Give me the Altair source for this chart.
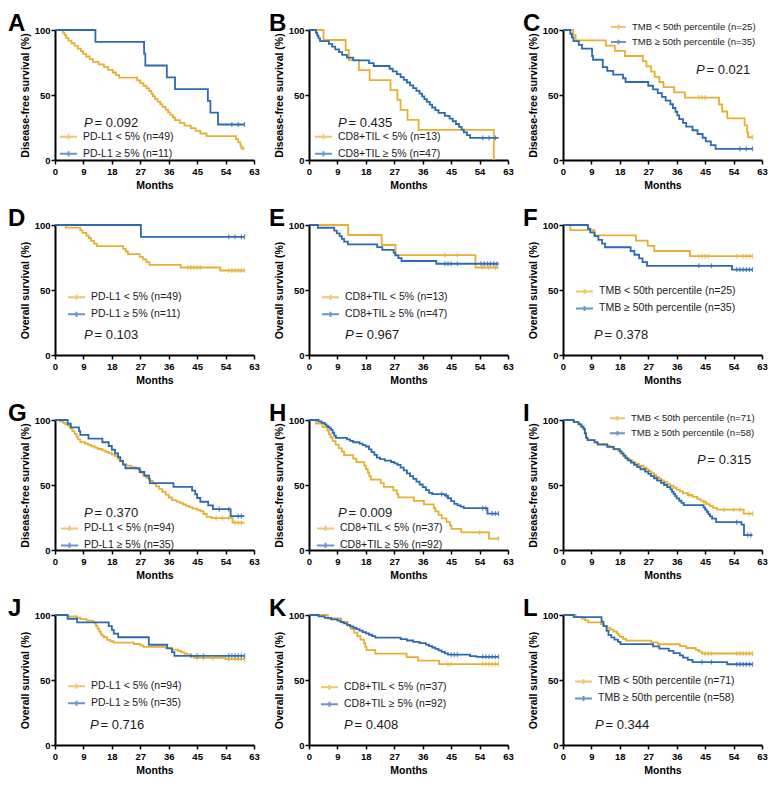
import altair as alt
import pandas as pd

YELLOW = "#E7B033"
BLUE = "#2B6BB3"
TXT = "#1a1a1a"
FONT = "Liberation Sans"
X_TICKS = [0, 9, 18, 27, 36, 45, 54, 63]
Y_TICKS = [0, 50, 100]
DFS = "Disease-free survival (%)"
OS = "Overall survival (%)"

# ---- Kaplan-Meier step curves: (month, survival %) ----
A_LOW = [(0,100),(2.5,98),(3,96),(3.5,93.9),(4.2,91.8),(5.2,89.8),(6.2,87.8),(7.2,85.7),(8.2,83.7),(8.9,81.6),(9.8,79.6),(11,77.6),(12,75.5),(13.8,73.5),(15.5,71.4),(16.8,69.4),(18.3,67.3),(19.3,65.3),(20.3,63.3),(26,61.2),(27,59.2),(28,57.1),(29,55.1),(29.8,53.1),(30.5,51),(31,49),(31.7,46.9),(32.5,44.9),(33.3,42.9),(34,40.8),(35,38.8),(35.8,36.7),(36.5,34.7),(37.3,32.7),(38,30.6),(39.5,28.6),(41,26.5),(43,24.5),(44.5,22.4),(46,20.4),(48,18.4),(57.3,16),(58,13.5),(58.7,11),(59,9),(60,9)]
A_HIGH = [(0,100),(12.8,90.9),(28.2,81.8),(28.6,72.7),(35.4,63.6),(38,54.5),(48.4,45.5),(49.2,36.4),(51.6,27.3),(60,27.3)]
A_LOW_CENS = [59.5]
A_HIGH_CENS = [56, 58, 60]

B_LOW = [(0,100),(4.6,92.3),(11.6,84.6),(12.6,76.9),(15.8,69.2),(19.2,61.5),(25.8,53.8),(28,46.2),(29,38.5),(31.2,30.8),(34.7,23.1),(58.5,0)]
B_HIGH = [(0,100),(2.2,97.9),(2.6,95.7),(3,93.6),(3.5,91.5),(6.3,89.4),(7.3,87.2),(8.3,85.1),(9.5,83),(10.5,80.9),(12,78.7),(14,76.6),(19,74.5),(20.5,72.3),(25.5,70.2),(26.5,68.1),(27.8,66),(29,63.8),(30,61.7),(31,59.6),(32,57.4),(33,55.3),(34,53.2),(35,51.1),(35.8,48.9),(36.5,46.8),(37.3,44.7),(38.2,42.6),(39,40.4),(40,38.3),(41,36.2),(43,34),(44.5,31.9),(45.5,29.8),(46.5,27.7),(47.5,25.5),(48.3,23.4),(49,21.3),(50,19.1),(51,17),(60,17)]
B_LOW_CENS = []
B_HIGH_CENS = [55, 57, 59]

C_LOW = [(0,100),(3.2,96),(4,92),(13.6,88),(16.4,84),(19.6,80),(25.3,76),(26.4,72),(27.9,68),(29,64),(30.5,60),(31.8,56),(35.2,52),(38.6,48),(49.4,42.7),(50.4,37.3),(52,32),(57.5,26.7),(58.3,21.3),(58.6,17.5),(60,17.5)]
C_HIGH = [(0,100),(2.3,97.1),(2.8,94.3),(3.3,91.4),(5,88.6),(6,85.7),(9.2,80),(9.5,77.1),(12.6,71.4),(14,68.6),(15.9,65.7),(19,62.9),(19.8,60),(27,57.1),(28.5,54.3),(30,51.4),(31.3,48.6),(32.5,45.7),(34,42.9),(34.8,40),(35.6,37.1),(36.2,34.3),(36.8,31.4),(38,28.6),(39,25.7),(41,22.9),(42.6,20),(44.2,17.1),(45.2,14.3),(46.8,11.4),(48.3,8.6),(60,8.6)]
C_LOW_CENS = [43, 44, 45, 60]
C_HIGH_CENS = [56, 58, 60]

D_LOW = [(0,100),(3.4,98),(8,95.9),(8.7,93.9),(9.9,91.8),(10.7,89.8),(11.4,87.8),(12.3,85.7),(13.2,83.7),(21.6,81.6),(22.4,79.6),(23.1,77.6),(26.8,75.5),(27.8,73.5),(28.9,71.4),(29.9,69.4),(39.8,67.3),(52.3,65),(60,65)]
D_HIGH = [(0,100),(27.2,90.9),(60,90.9)]
D_LOW_CENS = [42, 43, 44, 45, 46, 55, 56, 57, 58, 59, 60]
D_HIGH_CENS = [55, 57, 59, 60]

E_LOW = [(0,100),(12.4,92.3),(23,84.6),(27.4,76.9),(52.7,67.3),(60,67.3)]
E_HIGH = [(0,100),(2.8,97.9),(8,95.7),(8.8,93.6),(9.7,91.5),(10.4,89.4),(11.1,87.2),(12.3,85.1),(21.6,83),(23.2,80.9),(26.8,78.7),(27.3,76.6),(28.3,74.5),(29.3,72.3),(40.3,70.2),(60,70.2)]
E_LOW_CENS = [43, 47, 55, 57, 59]
E_HIGH_CENS = [43, 44, 45, 47, 54.5, 55.5, 56.5, 57.5, 58.5, 59.5]

F_LOW = [(0,100),(2.3,96),(9.9,92),(23.1,88),(26.8,84),(28.9,80),(40.2,76),(60,76)]
F_HIGH = [(0,100),(7.9,97.1),(8.6,94.3),(10,91.4),(11.2,88.6),(12.4,85.7),(13.3,82.9),(21.4,80),(22.6,77.1),(24.1,74.3),(25.2,71.4),(26.6,68.6),(53.5,65.7),(60,65.7)]
F_LOW_CENS = [43, 44, 45, 46, 55, 57, 58, 59, 60]
F_HIGH_CENS = [43, 47, 55, 56, 57, 58, 59, 60]

G_LOW = [(0,100),(1.5,98.9),(2.5,97.9),(3.2,96.8),(4,95.7),(4.8,93.6),(5.5,91.5),(6.2,89.4),(6.8,87.2),(7.3,85.1),(8,83),(9.5,81.9),(10.5,80.9),(11.5,79.8),(12.5,78.7),(13.5,77.7),(15,76.6),(16,75.5),(17,74.5),(18,73.4),(19,72.3),(19.8,70.2),(20.5,68.1),(21.5,66),(22.5,64.9),(24,63.8),(25.5,62.8),(26.5,61.7),(27.2,59.6),(28,57.4),(29,55.3),(30,53.2),(31,51.1),(32,49),(33,46.8),(34,44.7),(35,42.6),(36,40.4),(37,38.3),(38.5,37.2),(39.5,36.2),(40.5,35.1),(41.5,34),(42.5,33),(43.5,31.9),(45,30.9),(46,29.8),(47,27.7),(48,25.5),(49.5,24.5),(56.2,21),(60,21)]
G_HIGH = [(0,100),(4,97.1),(5,94.3),(7.6,91.4),(8,88.6),(10.6,85.7),(15,82.9),(17,80),(18,77.1),(19,74.3),(20,71.4),(20.7,68.6),(21.5,65.7),(22.3,62.9),(26.8,60),(28.3,57.1),(29.8,54.3),(30,51.4),(37.5,48.6),(43.4,45.7),(44.4,42.9),(45,40),(46,37.1),(48.5,34.3),(50,31.4),(55.6,26),(60,26)]
G_LOW_CENS = [51, 53, 55, 57, 58, 59]
G_HIGH_CENS = [52, 55, 58, 59]

H_LOW = [(0,100),(2.2,97.3),(4.3,94.6),(5.8,91.9),(6.3,89.2),(6.8,86.5),(7.5,83.8),(8.4,81.1),(9.4,78.4),(10.4,75.7),(11.1,73),(14,70.3),(15,67.6),(17.5,64.9),(18,62.2),(18.6,59.5),(19.1,56.8),(19.6,54.1),(22.7,51.4),(23.7,48.6),(26.7,45.9),(27.8,43.2),(28.3,40.5),(33.2,37.8),(36.4,35.1),(39.5,32.4),(40,29.7),(41,27),(42,24.3),(43.5,21.6),(44.6,18.9),(45.1,16.2),(48.2,13.5),(57,8.7),(60,8.7)]
H_HIGH = [(0,100),(3,98.9),(4,97.8),(5,96.7),(5.5,95.7),(6,94.6),(6.5,93.5),(7,92.4),(7.5,90.2),(8,88),(8.5,86.2),(12,85.1),(13,84),(14,82.9),(16,81.8),(17,80.7),(18,79.6),(19,77.4),(19.8,75.3),(20.7,73.1),(21.5,71),(22.5,69.9),(24,68.8),(26,67.7),(27,66.6),(28,65.5),(29,63.3),(30,61.2),(31,59),(32,56.9),(33,54.7),(34,52.6),(35,50.4),(36,48.3),(37,46.1),(38,44),(39,43),(43,41.9),(44,39.8),(45,37.6),(46,35.5),(47,34.4),(48,33.3),(49,32.2),(56.5,28),(60,28)]
H_LOW_CENS = [54, 60]
H_HIGH_CENS = [42, 43.5, 55, 56, 58, 59, 60]

I_LOW = [(0,100),(3.4,98.6),(4.9,97.2),(5.5,95.8),(6,94.4),(6.5,93),(6.9,90.1),(7.2,87.3),(7.5,85.9),(7.8,84.5),(10,83.1),(10.8,81.7),(14,80.3),(15,78.9),(16.2,77.5),(17.5,76.1),(18.2,74.6),(19,73.2),(19.5,71.8),(20.2,70.4),(21,69),(22,67.6),(23,66.2),(24,64.8),(25.5,63.4),(26.5,62),(27.2,60.6),(28,59.2),(28.8,57.7),(29.5,56.3),(30.3,54.9),(31.2,53.5),(32,52.1),(33,50.7),(34,49.3),(35,47.9),(36,46.5),(37,45.1),(38,43.7),(39.5,42.3),(41,40.8),(42.5,39.4),(43.5,38),(44.5,36.6),(45.5,35.2),(46.5,33.8),(47.5,32.4),(48.7,31),(57.2,28),(60,28)]
I_HIGH = [(0,100),(3.4,98.3),(4.9,96.6),(5.8,94.8),(6.5,93.1),(6.9,89.7),(7.3,86.2),(7.8,84.5),(10,82.8),(11,81),(14,79.3),(16,77.6),(18,75.9),(18.6,74.1),(19.2,72.4),(19.8,70.7),(20.5,69),(21.5,67.2),(22.5,65.5),(23.5,63.8),(24.5,62.1),(26,60.3),(27,58.6),(27.8,56.9),(28.8,55.2),(29.8,53.4),(31,51.7),(32,50),(33,48.3),(34,46.6),(34.5,44.8),(35,43.1),(35.5,41.4),(36,39.7),(36.8,37.9),(37.5,36.2),(38.2,34.5),(44.5,32.8),(45,31),(45.5,29.3),(46,27.6),(46.5,25.9),(47.2,24.1),(48.5,21.4),(56.5,19.5),(57.3,11.5),(60,11.5)]
I_LOW_CENS = [40, 45, 51, 54, 56, 59, 60]
I_HIGH_CENS = [55, 58.5, 59.5]

J_LOW = [(0,100),(4,98.9),(7,97.9),(8,96.8),(10,95.7),(12,94.7),(12.5,93.6),(13,91.5),(13.5,89.4),(14,87.2),(14.5,85.1),(15,84),(15.5,82.9),(16.5,80.9),(17.5,79.8),(18.5,78.7),(25,77.7),(27,76.6),(28,75.5),(35,74.5),(37,73.4),(39,72.3),(40,71.3),(41,70.2),(42,69.1),(43,68.1),(44,67),(54,66),(60,66)]
J_HIGH = [(0,100),(4,97.1),(7,94.3),(17,91.4),(18,88.6),(18.6,85.7),(20,82.9),(29.7,77.1),(35.5,74.3),(37,71.4),(37.8,68.6),(60,68.6)]
J_LOW_CENS = [45, 47, 50, 55, 57, 58, 59, 60]
J_HIGH_CENS = [43, 45, 47, 55, 56, 57, 58, 59, 60]

K_LOW = [(0,100),(6,97.3),(10.2,94.6),(12.2,91.9),(13.3,89.2),(14.3,86.5),(15.3,83.8),(16.3,81.1),(17.4,78.4),(17.8,75.7),(18.2,73),(21,70.3),(30.9,67.6),(34.5,64.9),(41.2,62.2),(60,62.2)]
K_HIGH = [(0,100),(3,98.9),(5,97.8),(7,96.7),(9,95.7),(10,94.6),(11,93.5),(12,92.4),(13,91.3),(14,90.2),(15,89.1),(16,88),(17,86.9),(18,85.9),(19,84.8),(20,83.7),(21,82.6),(29,81.5),(31,80.4),(33,79.3),(35,78.3),(37,77.2),(38,76.1),(39,75),(40,73.9),(41,72.8),(42,71.7),(43,70.5),(44,69.5),(51,68.4),(53,67.8),(60,67.8)]
K_LOW_CENS = [44, 45, 55, 56, 57, 58, 59, 60]
K_HIGH_CENS = [45, 46, 47, 55, 56, 57, 58, 59, 60]

L_LOW = [(0,100),(4,98.6),(6,97.2),(7,95.8),(8,94.4),(12,93),(13,91.5),(14,90.1),(15,88.7),(16,87.3),(17,85.9),(17.5,84.5),(18,83.1),(19,81.7),(20,80.3),(28,78.9),(30,77.5),(37,76),(39,74.6),(42,73.2),(43,71.8),(44,70.4),(60,70.4)]
L_HIGH = [(0,100),(3.4,98.3),(12.2,94.8),(12.8,91.4),(13.8,87.9),(14.4,84.5),(15.3,82.8),(16.3,81),(17.4,79.3),(18.2,77.6),(28.5,75.9),(30.5,74.1),(33.5,72.4),(35,70.7),(37,69),(38,67.2),(39.5,65.5),(41,63.8),(52,62.1),(60,62.1)]
L_LOW_CENS = [45, 46, 47, 55, 56, 57, 58, 59, 60]
L_HIGH_CENS = [44, 47, 55, 56, 57, 58, 59, 60]

# ---- labels ----
PDL1 = ["PD-L1 < 5% (n={})", "PD-L1 \u2265 5% (n={})"]
CD8 = ["CD8+TIL < 5% (n={})", "CD8+TIL \u2265 5% (n={})"]
TMB = ["TMB < 50th percentile (n={})", "TMB \u2265 50th percentile (n={})"]
LETTERS = list("ABCDEFGHIJKL")
P_VALUES = ["0.092", "0.435", "0.021", "0.103", "0.967", "0.378",
            "0.370", "0.009", "0.315", "0.716", "0.408", "0.344"]
N_LOW = [49, 13, 25, 49, 13, 25, 94, 37, 71, 94, 37, 71]
N_HIGH = [11, 47, 35, 11, 47, 35, 35, 92, 58, 35, 92, 58]
LABEL_SETS = [PDL1, CD8, TMB] * 4
Y_TITLES = [DFS] * 3 + [OS] * 3 + [DFS] * 3 + [OS] * 3

CURVES = [
    (A_LOW, A_HIGH, A_LOW_CENS, A_HIGH_CENS), (B_LOW, B_HIGH, B_LOW_CENS, B_HIGH_CENS),
    (C_LOW, C_HIGH, C_LOW_CENS, C_HIGH_CENS), (D_LOW, D_HIGH, D_LOW_CENS, D_HIGH_CENS),
    (E_LOW, E_HIGH, E_LOW_CENS, E_HIGH_CENS), (F_LOW, F_HIGH, F_LOW_CENS, F_HIGH_CENS),
    (G_LOW, G_HIGH, G_LOW_CENS, G_HIGH_CENS), (H_LOW, H_HIGH, H_LOW_CENS, H_HIGH_CENS),
    (I_LOW, I_HIGH, I_LOW_CENS, I_HIGH_CENS), (J_LOW, J_HIGH, J_LOW_CENS, J_HIGH_CENS),
    (K_LOW, K_HIGH, K_LOW_CENS, K_HIGH_CENS), (L_LOW, L_HIGH, L_LOW_CENS, L_HIGH_CENS),
]

# layout (pixels relative to each plot's top-left corner)
W, H = 199, 130
REF_H = [134] * 3 + [133] * 3 + [138] * 3 + [135] * 3
# legend: (x, y of first entry centre, font size); P text: (x, y)
LEGEND_POS = [(4, 109, 10.5), (5, 109, 10.5), (47, -4, 9.5),
              (12, 73, 10.5), (12, 73, 10.5), (12, 67, 10.5),
              (5, 114, 10.5), (7, 114, 10.5), (46, -3, 9.5),
              (12, 73, 10.5), (11, 74, 10.5), (11, 68, 10.5)]
P_POS = [(29, 96), (29, 96), (133, 41),
         (29, 113), (36, 113), (31, 113),
         (29, 99), (29, 99), (134, 42),
         (35, 114), (35, 114), (32, 114)]
LETTER_X = [-47, -40, -40] * 4
LEGEND_SYMBOL = "M-1,0L1,0M0,-0.3L0,0.3"


def surv_at(curve, t):
    s = curve[0][1]
    for tt, ss in curve:
        if tt <= t:
            s = ss
    return s


def make_panel(i):
    low, high, low_c, high_c = CURVES[i]
    lab_low = LABEL_SETS[i][0].format(N_LOW[i])
    lab_high = LABEL_SETS[i][1].format(N_HIGH[i])
    rows, cens = [], []
    for lab, curve, cc in ((lab_low, low, low_c), (lab_high, high, high_c)):
        for t, s in curve:
            rows.append({"time": t, "surv": s, "grp": lab})
        for t in cc:
            cens.append({"time": t, "surv": surv_at(curve, t), "grp": lab})
    line_df = pd.DataFrame(rows)
    cens_df = pd.DataFrame(cens, columns=["time", "surv", "grp"])
    k = H / REF_H[i]

    lx, ly, lfs = LEGEND_POS[i]
    sym = 17 if lfs > 10 else 15
    color = alt.Color(
        "grp:N",
        scale=alt.Scale(domain=[lab_low, lab_high], range=[YELLOW, BLUE]),
        legend=alt.Legend(
            orient="none", legendX=lx, legendY=ly * k - sym / 2,
            direction="vertical", title=None, symbolType=LEGEND_SYMBOL,
            symbolStrokeWidth=2, symbolSize=sym * sym, labelFontSize=lfs,
            labelFont=FONT, labelColor=TXT, labelOffset=5, padding=0,
            rowPadding=-1, labelLimit=300,
        ),
    )
    x = alt.X("time:Q", scale=alt.Scale(domain=[0, 63], nice=False),
              axis=alt.Axis(values=X_TICKS, title="Months", labelFlush=False))
    y = alt.Y("surv:Q", scale=alt.Scale(domain=[0, 100], nice=False),
              axis=alt.Axis(values=Y_TICKS, title=Y_TITLES[i]))

    lines = alt.Chart(line_df).mark_line(
        interpolate="step-after", strokeWidth=1.8).encode(x=x, y=y, color=color)
    layers = [lines]
    if len(cens_df):
        layers.append(alt.Chart(cens_df).mark_tick(
            orient="vertical", size=5, thickness=1.3).encode(x=x, y=y, color=color))

    px, py = P_POS[i]
    py = py * k
    p1 = alt.Chart(pd.DataFrame({"t": ["P"]})).mark_text(
        align="left", baseline="middle", fontSize=13, fontStyle="italic",
        font=FONT, color=TXT).encode(x=alt.value(px), y=alt.value(py), text="t:N")
    p2 = alt.Chart(pd.DataFrame({"t": ["= " + P_VALUES[i]]})).mark_text(
        align="left", baseline="middle", fontSize=13, font=FONT,
        color=TXT).encode(x=alt.value(px + 10.5), y=alt.value(py), text="t:N")
    let = alt.Chart(pd.DataFrame({"t": [LETTERS[i]]})).mark_text(
        align="left", baseline="top", fontSize=24, fontWeight="bold",
        font=FONT, color="black").encode(
        x=alt.value(LETTER_X[i]), y=alt.value(-18), text="t:N")
    layers += [p1, p2, let]
    return alt.layer(*layers).properties(width=W, height=H)


panels = [make_panel(i) for i in range(12)]

chart = alt.concat(
    *panels, columns=3, spacing={"row": 65, "column": 55}, bounds="flush"
).resolve_scale(
    color="independent", x="independent", y="independent"
).resolve_legend(color="independent").properties(
    padding={"top": 4, "left": 0, "right": 0, "bottom": 0}
).configure(font=FONT).configure_axis(
    domainColor="black", domainWidth=2, tickColor="black", tickWidth=1.5,
    tickSize=4, labelFontSize=9.5, labelFontWeight="bold", labelColor="black",
    labelFont=FONT, titleFont=FONT, titleFontSize=10.5, titleFontWeight="bold",
    titleColor="black", grid=False, labelPadding=1,
).configure_axisX(titlePadding=5, labelPadding=2).configure_axisY(
    titlePadding=4
).configure_view(stroke=None)

chart.save("out.html", embed_options={"renderer": "svg", "actions": False})
